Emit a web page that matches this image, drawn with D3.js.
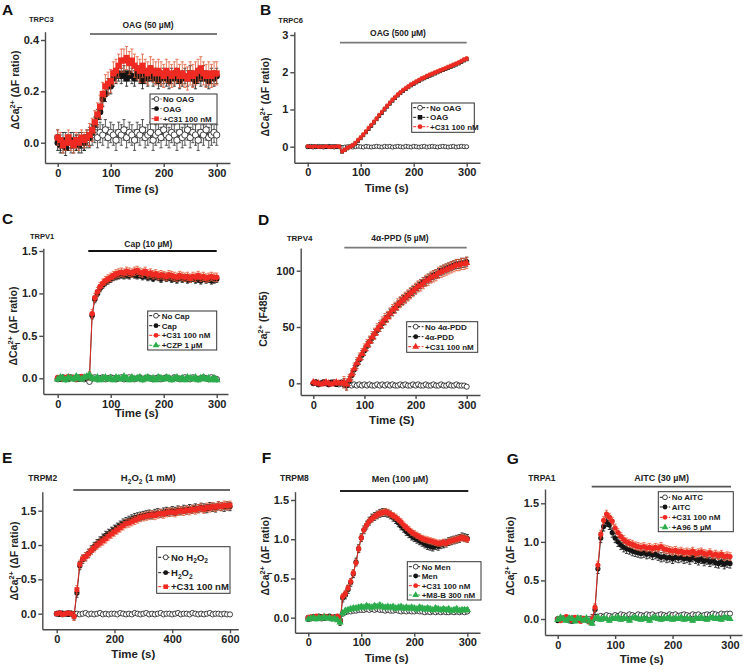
<!DOCTYPE html>
<html><head><meta charset="utf-8">
<script src="https://cdn.jsdelivr.net/npm/d3@7"></script>
<style>body{margin:0;background:#fff}svg{display:block}text{font-family:"Liberation Sans",Arial,sans-serif;font-weight:bold}</style>
</head><body><svg id="c" width="745" height="672"></svg>
<script>
// ---------- time bases ----------
const t300 = [0,5,10,15,20,25,30,35,40,45,50,55,60,65,70,75,80,85,90,95,100,105,110,115,120,125,130,135,140,145,150,155,160,165,170,175,180,185,190,195,200,205,210,215,220,225,230,235,240,245,250,255,260,265,270,275,280,285,290,295,300];
const t600 = [0,10,20,30,40,50,60,70,80,90,100,110,120,130,140,150,160,170,180,190,200,210,220,230,240,250,260,270,280,290,300,310,320,330,340,350,360,370,380,390,400,410,420,430,440,450,460,470,480,490,500,510,520,530,540,550,560,570,580,590,600];

// ---------- A: TRPC3 ----------
const aNo = [0.02,0.00,-0.01,0.01,0.00,-0.01,0.01,0.00,0.01,-0.01, 0.00,0.01,0.02,0.03,0.04,0.02,0.04,0.03,0.05,0.02, 0.04,0.03,0.01,0.04,0.03,0.05,0.02,0.04,0.03,0.01, 0.04,0.03,0.05,0.02,0.03,0.04,0.01,0.03,0.04,0.02, 0.05,0.03,0.02,0.04,0.03,0.01,0.04,0.02,0.03,0.05, 0.02,0.04,0.03,0.01,0.04,0.03,0.05,0.02,0.03,0.04, 0.03];
const aOag = [0.00,-0.01,0.01,-0.02,0.00,0.01,-0.01,0.00,-0.01,0.01, 0.00,0.02,0.02,0.04,0.07,0.10,0.12,0.17,0.19,0.22, 0.22,0.25,0.26,0.27,0.26,0.27,0.25,0.27,0.26,0.25, 0.27,0.26,0.24,0.26,0.25,0.27,0.25,0.26,0.24,0.25, 0.26,0.25,0.24,0.26,0.25,0.26,0.24,0.25,0.26,0.25, 0.27,0.25,0.24,0.26,0.25,0.27,0.25,0.24,0.26,0.25, 0.26];
const aC31 = [0.02,0.01,-0.01,0.00,0.02,0.00,-0.01,0.01,0.00,0.02, 0.01,0.02,0.03,0.05,0.08,0.11,0.14,0.19,0.22,0.23, 0.24,0.27,0.28,0.30,0.32,0.32,0.33,0.31,0.32,0.30, 0.29,0.28,0.30,0.28,0.27,0.29,0.28,0.27,0.28,0.27, 0.26,0.28,0.27,0.26,0.27,0.28,0.26,0.27,0.26,0.25, 0.27,0.26,0.27,0.28,0.29,0.27,0.26,0.27,0.26,0.27, 0.27];

// ---------- B: TRPC6 ----------
const bNo = [0.00,0.01,-0.01,0.00,0.01,0.00,-0.01,0.00,0.01,0.00, -0.01,0.00,0.00,-0.02,-0.01,0.00,0.01,-0.01,0.00,0.01, 0.00,-0.01,0.01,0.00,-0.01,0.00,0.01,0.00,-0.01,0.01, 0.00,0.01,-0.01,0.00,0.01,0.00,-0.01,0.01,0.00,-0.01, 0.01,0.00,-0.01,0.00,0.01,-0.01,0.00,0.01,0.00,-0.01, 0.00,0.01,0.00,-0.01,0.00,0.01,-0.01,0.00,0.01,0.00, 0.00];
const bOag = [0.00,-0.01,0.01,0.00,-0.01,0.00,0.01,-0.01,0.00,0.00, 0.01,0.00,-0.01,-0.13,-0.09,-0.04,-0.01,0.03,0.09,0.16, 0.23,0.31,0.39,0.48,0.56,0.65,0.74,0.83,0.91,1.00, 1.08,1.16,1.24,1.31,1.38,1.44,1.50,1.55,1.60,1.65, 1.69,1.73,1.77,1.81,1.84,1.88,1.91,1.94,1.97,2.00, 2.03,2.06,2.09,2.12,2.15,2.18,2.21,2.24,2.28,2.32, 2.35];
const bC31 = [0.01,0.00,0.00,0.01,-0.01,0.00,0.00,0.01,-0.01,0.00, 0.00,0.01,0.00,-0.12,-0.08,-0.03,0.00,0.04,0.10,0.18, 0.25,0.33,0.41,0.50,0.58,0.67,0.76,0.85,0.93,1.02, 1.10,1.18,1.26,1.33,1.40,1.46,1.52,1.57,1.62,1.67, 1.71,1.75,1.79,1.83,1.86,1.90,1.93,1.96,1.99,2.02, 2.05,2.08,2.11,2.14,2.17,2.20,2.23,2.26,2.30,2.34, 2.37];

// ---------- C: TRPV1 ----------
const cNo = [-0.01,0.00,0.01,-0.01,0.00,0.01,0.00,-0.01,0.01,0.00, -0.01,0.00,-0.04,0.00,0.01,-0.01,0.00,0.01,-0.01,0.00, 0.01,0.00,-0.01,0.00,0.01,-0.01,0.00,0.01,0.00,-0.01, 0.00,0.01,-0.01,0.00,0.01,0.00,-0.01,0.00,0.01,-0.01, 0.00,0.01,0.00,-0.01,0.01,0.00,-0.01,0.00,0.01,0.00, -0.01,0.01,0.00,-0.01,0.00,0.01,0.00,-0.01,0.01,0.00, -0.01];
const cCap = [0.00,-0.01,0.01,0.00,-0.01,0.00,0.01,0.00,-0.01,0.01, 0.00,0.01,0.02,0.74,0.93,1.00,1.06,1.10,1.13,1.15, 1.17,1.19,1.20,1.21,1.22,1.21,1.22,1.21,1.23,1.22, 1.21,1.22,1.20,1.21,1.19,1.20,1.18,1.20,1.19,1.17, 1.20,1.18,1.19,1.17,1.18,1.16,1.19,1.17,1.18,1.16, 1.17,1.18,1.16,1.17,1.15,1.18,1.16,1.17,1.15,1.16, 1.17];
const cC31 = [0.01,0.00,-0.01,0.01,0.02,0.00,0.01,-0.01,0.00,0.02, 0.01,0.02,0.03,0.76,0.95,1.02,1.08,1.12,1.15,1.17, 1.19,1.21,1.23,1.24,1.25,1.24,1.26,1.25,1.24,1.26, 1.27,1.25,1.24,1.26,1.23,1.24,1.22,1.23,1.21,1.22, 1.21,1.20,1.22,1.21,1.20,1.19,1.21,1.20,1.19,1.20, 1.18,1.20,1.19,1.21,1.19,1.20,1.18,1.19,1.20,1.19, 1.19];
const cCzp = [-0.01,0.01,0.00,-0.02,0.01,0.00,-0.01,0.02,0.00,-0.01, 0.01,0.02,0.04,0.00,-0.01,0.01,-0.02,0.00,0.01,-0.01, 0.00,-0.02,0.01,0.00,-0.01,0.02,0.00,-0.02,0.01,-0.01, 0.00,0.01,-0.02,0.00,0.01,-0.01,0.00,-0.02,0.01,0.00, -0.01,0.01,0.00,-0.02,0.00,0.01,-0.01,0.00,-0.02,0.01, 0.00,-0.01,0.01,-0.02,0.00,0.01,-0.01,0.00,-0.02,0.00, -0.02];

// ---------- D: TRPV4 ----------
const dNo = [0,1,-1,0,1,0,-1,0,1,0, -1,0,-1,-2,-1,-2,-1,-2,-1,-2, -1,-2,-1,-2,-2,-1,-2,-1,-2,-1, -2,-1,-2,-2,-1,-2,-1,-2,-2,-1, -2,-1,-2,-2,-1,-2,-2,-1,-2,-2, -1,-2,-2,-1,-2,-2,-1,-2,-2,-2, -3];
const dPdd = [0,1,-1,0,1,0,-1,1,0,-1, 0,1,0,-2,2,7,12,17,21,25, 29,33,37,40,44,47,50,53,56,59, 62,64,67,69,72,74,76,78,80,82, 84,86,88,90,91,93,94,96,97,98, 100,101,102,103,104,105,106,106,107,107, 108];
const dC31 = [1,0,0,-1,0,1,0,-1,0,1, 0,0,1,-1,3,8,13,18,22,26, 30,34,37,41,44,48,51,54,57,59, 62,65,67,70,72,74,76,78,80,82, 84,86,87,89,91,92,94,95,96,98, 99,100,101,102,103,104,105,105,106,106, 107];

// ---------- E: TRPM2 ----------
const eNo = [0.00,0.01,-0.01,0.00,0.01,0.00,-0.02,0.00,-0.01,0.00, 0.01,-0.01,0.00,-0.01,0.00,0.01,-0.01,0.00,-0.01,0.00, 0.00,-0.01,0.01,0.00,-0.01,0.00,-0.01,0.01,0.00,-0.01, 0.00,0.01,-0.01,0.00,-0.01,0.00,0.01,-0.01,0.00,0.00, -0.01,0.00,0.01,-0.01,0.00,0.00,-0.01,0.01,0.00,-0.01, 0.00,-0.01,0.00,0.01,-0.01,0.00,0.00,-0.01,0.00,-0.01, -0.01];
const eH2 = [0.00,-0.01,0.01,0.00,-0.01,0.01,-0.03,0.30,0.70,0.79, 0.83,0.88,0.93,0.98,1.02,1.06,1.10,1.14,1.17,1.20, 1.23,1.26,1.29,1.32,1.34,1.36,1.38,1.40,1.41,1.42, 1.43,1.44,1.45,1.44,1.46,1.47,1.46,1.48,1.49,1.48, 1.50,1.49,1.51,1.50,1.52,1.51,1.53,1.52,1.54,1.53, 1.55,1.54,1.53,1.56,1.55,1.54,1.57,1.56,1.55,1.57, 1.56];
const eC31 = [0.00,0.01,-0.01,0.00,0.01,0.00,-0.04,0.35,0.72,0.80, 0.83,0.87,0.92,0.96,1.00,1.03,1.06,1.09,1.13,1.16, 1.19,1.22,1.25,1.28,1.31,1.32,1.34,1.36,1.38,1.40, 1.41,1.42,1.43,1.44,1.43,1.45,1.46,1.45,1.47,1.48, 1.48,1.47,1.49,1.50,1.49,1.51,1.50,1.52,1.51,1.53, 1.54,1.52,1.55,1.54,1.56,1.55,1.57,1.56,1.58,1.57, 1.58];

// ---------- F: TRPM8 ----------
const fNo = [0.00,-0.01,0.01,0.00,0.01,-0.01,0.00,0.01,0.00,-0.01, 0.00,0.01,-0.03,0.05,0.07,0.08,0.08,0.09,0.09,0.10, 0.10,0.10,0.11,0.10,0.11,0.10,0.11,0.10,0.10,0.09, 0.10,0.09,0.09,0.10,0.09,0.08,0.09,0.08,0.09,0.08, 0.08,0.09,0.08,0.08,0.07,0.08,0.07,0.08,0.07,0.08, 0.07,0.08,0.07,0.07,0.08,0.07,0.08,0.07,0.08,0.07, 0.08];
const fMen = [-0.02,0.00,0.01,0.00,0.02,0.01,-0.01,0.01,0.02,0.00, 0.01,0.00,-0.05,0.25,0.29,0.36,0.45,0.56,0.71,0.88, 1.02,1.12,1.18,1.23,1.27,1.29,1.31,1.33,1.34,1.34, 1.33,1.31,1.28,1.25,1.21,1.17,1.14,1.10,1.07,1.04, 1.02,1.00,0.98,0.96,0.94,0.92,0.91,0.90,0.92,0.91, 0.93,0.94,0.95,0.97,0.98,0.99,1.00,1.01,1.03,1.02, 1.01];
const fC31 = [0.00,0.01,-0.01,0.02,0.01,0.00,0.02,0.01,0.00,0.01, 0.00,0.02,-0.04,0.27,0.31,0.38,0.46,0.57,0.70,0.88, 1.02,1.12,1.18,1.23,1.26,1.29,1.31,1.33,1.34,1.35, 1.34,1.32,1.30,1.28,1.25,1.22,1.18,1.15,1.12,1.09, 1.07,1.05,1.03,1.01,1.00,0.99,0.98,0.97,0.96,0.95, 0.95,0.96,0.95,0.97,0.98,0.99,1.00,1.01,1.02,1.01, 1.00];
const fM8b = [-0.02,-0.01,0.00,-0.02,0.00,-0.01,0.01,-0.01,0.00,-0.02, -0.01,-0.03,-0.06,0.06,0.09,0.10,0.11,0.12,0.12,0.13, 0.14,0.13,0.15,0.14,0.13,0.15,0.14,0.16,0.14,0.13, 0.14,0.13,0.14,0.12,0.13,0.14,0.12,0.13,0.12,0.13, 0.12,0.11,0.13,0.12,0.11,0.12,0.11,0.10,0.12,0.11, 0.10,0.11,0.10,0.11,0.09,0.10,0.11,0.09,0.10,0.10, 0.10];

// ---------- G: TRPA1 ----------
const gNo = [0.00,-0.01,0.01,0.00,-0.02,0.01,0.00,-0.01,0.01,0.00, -0.01,0.00,-0.02,0.02,0.03,0.04,0.03,0.05,0.04,0.03, 0.05,0.04,0.06,0.05,0.04,0.06,0.05,0.04,0.06,0.05, 0.04,0.06,0.05,0.06,0.04,0.05,0.06,0.05,0.04,0.06, 0.05,0.06,0.04,0.05,0.06,0.05,0.04,0.06,0.05,0.06, 0.04,0.05,0.06,0.05,0.07,0.06,0.05,0.07,0.06,0.07, 0.07];
const gAitc = [-0.02,0.00,0.01,0.02,-0.01,-0.03,0.01,0.00,-0.02,0.00, -0.01,-0.03,0.00,0.12,0.65,1.05,1.20,1.26,1.22,1.12, 1.05,1.00,0.96,0.93,0.91,0.90,0.88,0.87,0.86,0.85, 0.86,0.84,0.85,0.83,0.84,0.82,0.80,0.81,0.79,0.80, 0.78,0.80,0.79,0.80,0.78,0.79,0.77,0.80,0.78,0.76, 0.78,0.75,0.77,0.74,0.76,0.73,0.72,0.74,0.71,0.73, 0.72];
const gC31 = [0.00,-0.02,0.01,0.03,0.00,-0.02,0.02,0.00,-0.03,0.01, -0.01,-0.04,0.00,0.15,0.70,1.10,1.28,1.36,1.32,1.27, 1.18,1.12,1.07,1.03,1.00,0.98,0.97,0.95,0.94,0.93, 0.94,0.92,0.93,0.91,0.93,0.92,0.94,0.91,0.90,0.89, 0.88,0.89,0.87,0.88,0.86,0.87,0.86,0.88,0.85,0.86, 0.87,0.85,0.84,0.86,0.83,0.84,0.82,0.84,0.81,0.82, 0.81];
const gA96 = [-0.01,0.02,0.00,-0.02,0.01,0.00,-0.03,0.01,0.00,-0.02, 0.01,-0.03,-0.06,0.00,0.02,-0.01,0.01,0.00,-0.02,0.01, 0.00,0.02,-0.01,0.01,0.00,-0.02,0.01,0.02,0.00,-0.01, 0.01,0.00,-0.02,0.01,0.02,0.00,-0.01,0.01,0.00,0.02, -0.01,0.01,0.00,0.02,-0.01,0.01,0.00,-0.02,0.01,0.00, 0.02,0.00,-0.01,0.01,0.02,0.00,0.01,-0.01,0.02,0.01, 0.00];

// ---------- tick labels ----------
const xTicks300 = [0,100,200,300];
const xTicks600 = [0,200,400,600];
const yTicksA = [0.0,0.2,0.4];
const yTicksB = [0,1,2,3];
const yTicks15 = [0.0,0.5,1.0,1.5];
const yTicksD = [0,50,100];

// ---------- styling ----------
const RED='#ee2a22', REDE='#e35a36', BLK='#141414', GRN='#2bad4b', GRNE='#35a852';
const FONT='"Liberation Sans",Arial,sans-serif';
const YT_DF=[['ΔCa'],['i','sub'],['2+','supst'],[' (ΔF ratio)']];

const panels = [
 {letter:'A',lx:2,ly:15, name:'TRPC3',nx:29,ny:22,nfs:7.5,
  stim:[['OAG (50 µM)']],sx:148,sy:27.5,sfs:8.5,bar:[90,217,34],barc:'#7a7a7a',
  xa:[0,300],xp:[57.7,216.7],ya:[0,0.4],yp:[142.7,40],L:45,R:230,T:31.7,B:163,
  xt:xTicks300,yt:yTicksA,yf:'.1f',xtitle:'Time (s)',xtx:136.7,xty:193,
  ytitle:YT_DF,ytx:19,yty:90,on:60,ms:3.2,
  lg:{x0:150,y0:94,x1:217,y1:124,ys:[99,108.7,118.7],mx:156.5,tx:163,fs:8},
  series:[
   {label:[['No OAG']],t:t300,v:aNo,m:'oc',c:BLK,ec:'#333',err:[0.03,0.04]},
   {label:[['OAG']],t:t300,v:aOag,m:'fc',c:BLK,ec:BLK,err:[0.03,0.03]},
   {label:[['+C31 100 nM']],t:t300,v:aC31,m:'sq',c:RED,ec:REDE,err:[0.03,0.045]}]},
 {letter:'B',lx:260,ly:15, name:'TRPC6',nx:278.3,ny:23.3,nfs:7.5,
  stim:[['OAG (500 µM)']],sx:398,sy:36,sfs:8.5,bar:[340,466.7,42.7],barc:'#7a7a7a',
  xa:[0,300],xp:[307.7,466.7],ya:[0,3],yp:[146.7,35],L:294.3,R:480,T:31.7,B:162.7,
  xt:xTicks300,yt:yTicksB,yf:'d',xtitle:'Time (s)',xtx:386.7,xty:191.7,
  ytitle:YT_DF,ytx:269,yty:97,on:60,ms:2,
  lg:{x0:411.7,y0:103,x1:474.3,y1:132.3,ys:[107.7,117.3,126.7],mx:420,tx:430,fs:8},
  series:[
   {label:[['No OAG']],t:t300,v:bNo,m:'oc',c:BLK,ec:'#333',err:[0.01,0.01]},
   {label:[['OAG']],t:t300,v:bOag,m:'sq',c:BLK,ec:BLK,err:[0.02,0.04]},
   {label:[['+C31 100 nM']],t:t300,v:bC31,m:'fc',c:RED,ec:REDE,err:[0.02,0.05]}]},
 {letter:'C',lx:2,ly:224, name:'TRPV1',nx:30,ny:239.3,nfs:7.5,
  stim:[['Cap (10 µM)']],sx:148.3,sy:246.5,sfs:8.5,bar:[88.3,216.7,251],barc:'#111',
  xa:[0,300],xp:[57.7,216.7],ya:[0,1.5],yp:[378.3,251],L:43.3,R:228,T:248.3,B:394,
  xt:xTicks300,yt:yTicks15,yf:'.1f',xtitle:'Time (s)',xtx:136.7,xty:417,
  ytitle:YT_DF,ytx:17,yty:326,on:60,ms:2.8,
  lg:{x0:147.7,y0:311,x1:216.7,y1:350,ys:[315.7,325.7,335.3,345.3],mx:156,tx:161.7,fs:8},
  series:[
   {label:[['No Cap']],t:t300,v:cNo,m:'oc',c:BLK,ec:'#333',err:[0.01,0.01]},
   {label:[['Cap']],t:t300,v:cCap,m:'fc',c:BLK,ec:BLK,err:[0.02,0.04]},
   {label:[['+C31 100 nM']],t:t300,v:cC31,m:'fc',c:RED,ec:REDE,err:[0.02,0.05]},
   {label:[['+CZP 1 µM']],t:t300,v:cCzp,m:'tri',c:GRN,ec:GRNE,err:[0.02,0.02]}]},
 {letter:'D',lx:258,ly:225, name:'TRPV4',nx:286.7,ny:240.7,nfs:8,
  stim:[['4α-PPD (5 µM)']],sx:400,sy:240.7,sfs:8.5,bar:[344.3,466.7,247.7],barc:'#7a7a7a',
  xa:[0,300],xp:[313.3,466.7],ya:[0,100],yp:[383.3,270.7],L:300.7,R:480,T:248,B:395,
  xt:xTicks300,yt:yTicksD,yf:'d',xtitle:'Time (S)',xtx:391.7,xty:424,
  ytitle:[['Ca'],['i','sub'],['2+','supst'],[' (F485)']],ytx:267,yty:319,on:60,ms:2.6,
  lg:{x0:406.7,y0:321.7,x1:477.7,y1:352.3,ys:[326.7,336.7,346.7],mx:415.7,tx:425,fs:8},
  series:[
   {label:[['No 4α-PDD']],t:t300,v:dNo,m:'oc',c:BLK,ec:'#333',err:[1,1.5]},
   {label:[['4α-PDD']],t:t300,v:dPdd,m:'fc',c:BLK,ec:BLK,err:[1,4]},
   {label:[['+C31 100 nM']],t:t300,v:dC31,m:'tri',c:RED,ec:REDE,err:[1,5]}]},
 {letter:'E',lx:2,ly:463, name:'TRPM2',nx:28.3,ny:480.7,nfs:8.5,
  stim:[['H'],['2','sub'],['O'],['2','sub'],[' (1 mM)']],sx:148.3,sy:481,sfs:9.5,bar:[73.3,230,490],barc:'#6a6a6a',
  xa:[0,600],xp:[56.7,230],ya:[0,1.5],yp:[613.7,510.7],L:42.3,R:238.3,T:491.7,B:629.3,
  xt:xTicks600,yt:yTicks15,yf:'.1f',xtitle:'Time (s)',xtx:133.3,xty:658.3,
  ytitle:YT_DF,ytx:18,yty:561,on:60,ms:2.6,
  lg:{x0:156.7,y0:546.7,x1:230,y1:593.3,ys:[557.3,572.7,586.7],mx:165.7,tx:171,fs:9.5},
  series:[
   {label:[['No H'],['2','sub'],['O'],['2','sub']],t:t600,v:eNo,m:'oc',c:BLK,ec:'#333',err:[0.01,0.015]},
   {label:[['H'],['2','sub'],['O'],['2','sub']],t:t600,v:eH2,m:'fc',c:BLK,ec:BLK,err:[0.02,0.06]},
   {label:[['+C31 100 nM']],t:t600,v:eC31,m:'sq',c:RED,ec:REDE,err:[0.02,0.06]}]},
 {letter:'F',lx:261.7,ly:463, name:'TRPM8',nx:280,ny:480.7,nfs:8.5,
  stim:[['Men (100 µM)']],sx:400,sy:482,sfs:9,bar:[340,468.3,491],barc:'#222',
  xa:[0,300],xp:[308.3,467.3],ya:[0,1.5],yp:[617.7,500],L:295,R:480,T:491.7,B:632.7,
  xt:xTicks300,yt:yTicks15,yf:'.1f',xtitle:'Time (s)',xtx:386.7,xty:661.7,
  ytitle:YT_DF,ytx:269,yty:556,on:60,ms:2.6,
  lg:{x0:407.3,y0:561.7,x1:481,y1:600,ys:[566.7,576,585.7,595],mx:415.7,tx:421.7,fs:8},
  series:[
   {label:[['No Men']],t:t300,v:fNo,m:'oc',c:BLK,ec:'#333',err:[0.01,0.01]},
   {label:[['Men']],t:t300,v:fMen,m:'fc',c:BLK,ec:BLK,err:[0.02,0.05]},
   {label:[['+C31 100 nM']],t:t300,v:fC31,m:'fc',c:RED,ec:REDE,err:[0.02,0.04]},
   {label:[['+M8-B 300 nM']],t:t300,v:fM8b,m:'tri',c:GRN,ec:GRNE,err:[0.02,0.03]}]},
 {letter:'G',lx:506.7,ly:464, name:'TRPA1',nx:528.3,ny:480.7,nfs:8.5,
  stim:[['AITC (30 µM)']],sx:661.7,sy:480.5,sfs:9,bar:[591.7,731,486.7],barc:'#555',
  xa:[0,300],xp:[557.7,730],ya:[0,1.5],yp:[619,503.3],L:545,R:742,T:489,B:635,
  xt:xTicks300,yt:yTicks15,yf:'.1f',xtitle:'Time (s)',xtx:641.7,xty:662.7,
  ytitle:YT_DF,ytx:514,yty:556,on:60,ms:2.6,
  lg:{x0:658.3,y0:491.7,x1:733.3,y1:531.7,ys:[497.3,507,517.3,527.3],mx:665,tx:671.7,fs:8},
  series:[
   {label:[['No AITC']],t:t300,v:gNo,m:'oc',c:BLK,ec:'#333',err:[0.01,0.015]},
   {label:[['AITC']],t:t300,v:gAitc,m:'fc',c:BLK,ec:BLK,err:[0.02,0.06]},
   {label:[['+C31 100 nM']],t:t300,v:gC31,m:'fc',c:RED,ec:REDE,err:[0.02,0.05]},
   {label:[['+A96 5 µM']],t:t300,v:gA96,m:'tri',c:GRN,ec:GRNE,err:[0.02,0.02]}]}
];

const svg = d3.select('#c');

function rich(sel, parts, fs){
  let shift = 0;
  parts.forEach(([s,k])=>{
    const t = sel.append('tspan').text(s);
    let target = 0, size = fs;
    if(k==='sub'){target = fs*0.3; size = fs*0.7;}
    if(k==='sup'){target = -fs*0.45; size = fs*0.7;}
    if(k==='supst'){target = -fs*0.42; size = fs*0.7; t.attr('dx', -fs*0.2);}
    t.attr('dy', target - shift).attr('font-size', size);
    shift = target;
  });
}

function marker(sel, m, r, c){
  let type = d3.symbolCircle, size = Math.PI*r*r;
  if(m==='sq'){type = d3.symbolSquare; size = (2*r*0.95)*(2*r*0.95);}
  if(m==='tri'){type = d3.symbolTriangle; size = 2.6*r*r*1.3;}
  sel.attr('d', d3.symbol().type(type).size(size)())
     .attr('fill', m==='oc' ? '#fff' : c)
     .attr('stroke', m==='oc' ? c : 'none')
     .attr('stroke-width', 0.8);
}

panels.forEach(p=>{
  const g = svg.append('g');
  const x = d3.scaleLinear().domain(p.xa).range(p.xp);
  x.domain([x.invert(p.L), x.invert(p.R)]).range([p.L, p.R]);
  const y = d3.scaleLinear().domain(p.ya).range(p.yp);
  y.domain([y.invert(p.B), y.invert(p.T)]).range([p.B, p.T]);

  // axes
  const ax = g.append('g').attr('transform', `translate(0,${p.B})`)
    .call(d3.axisBottom(x).tickValues(p.xt).tickFormat(d3.format('d')).tickSize(4).tickSizeOuter(0).tickPadding(2));
  const ay = g.append('g').attr('transform', `translate(${p.L},0)`)
    .call(d3.axisLeft(y).tickValues(p.yt).tickFormat(d3.format(p.yf)).tickSize(4).tickSizeOuter(0).tickPadding(2));
  [ax, ay].forEach(a=>{
    a.selectAll('path,line').attr('stroke', '#4a4a4a').attr('stroke-width', 1.4);
    a.selectAll('text').attr('font-size', 11).attr('font-family', FONT).attr('font-weight', 'bold').attr('fill', '#222');
  });

  // series
  p.series.forEach(s=>{
    const pts = s.v.map((v,i)=>({t:s.t[i], v, e: s.t[i] < p.on ? s.err[0] : s.err[1]})).filter(d=>d.t !== undefined);
    const sg = g.append('g');
    sg.selectAll('path.eb').data(pts).join('path').attr('class','eb')
      .attr('d', d=>{const X=x(d.t), y1=y(d.v-d.e), y2=y(d.v+d.e); return `M${X},${y1}V${y2}M${X-1.6},${y1}h3.2M${X-1.6},${y2}h3.2`;})
      .attr('stroke', s.ec).attr('stroke-width', 0.8).attr('fill','none');
    sg.append('path').datum(pts)
      .attr('d', d3.line().x(d=>x(d.t)).y(d=>y(d.v)))
      .attr('fill','none').attr('stroke', s.c).attr('stroke-width', 0.9);
    sg.selectAll('path.mk').data(pts).join('path').attr('class','mk')
      .attr('transform', d=>`translate(${x(d.t)},${y(d.v)})`)
      .call(sel=>marker(sel, s.m, p.ms, s.c));
  });

  // stimulus bar + label
  g.append('line').attr('x1', p.bar[0]).attr('x2', p.bar[1]).attr('y1', p.bar[2]).attr('y2', p.bar[2])
    .attr('stroke', p.barc).attr('stroke-width', 1.8);
  rich(g.append('text').attr('x', p.sx).attr('y', p.sy).attr('text-anchor','middle').attr('font-size', p.sfs).attr('fill','#222'), p.stim, p.sfs);

  // panel letter and channel name
  g.append('text').attr('x', p.lx).attr('y', p.ly).attr('font-size', 15.5).attr('fill','#111').text(p.letter);
  g.append('text').attr('x', p.nx).attr('y', p.ny).attr('font-size', p.nfs).attr('fill','#222').text(p.name);

  // axis titles
  g.append('text').attr('x', p.xtx).attr('y', p.xty).attr('text-anchor','middle').attr('font-size', 11.5).attr('fill','#222').text(p.xtitle);
  rich(g.append('text').attr('transform', `translate(${p.ytx},${p.yty}) rotate(-90)`).attr('text-anchor','middle').attr('font-size', 10.5).attr('fill','#222'), p.ytitle, 10.5);

  // legend
  const lg = p.lg;
  g.append('rect').attr('x', lg.x0).attr('y', lg.y0).attr('width', lg.x1-lg.x0).attr('height', lg.y1-lg.y0)
    .attr('fill','#fff').attr('stroke','#333').attr('stroke-width', 1);
  p.series.forEach((s,i)=>{
    const yy = lg.ys[i];
    g.append('line').attr('x1', lg.x0+1.5).attr('x2', lg.tx-1.5).attr('y1', yy).attr('y2', yy)
      .attr('stroke', s.c).attr('stroke-width', 1).attr('stroke-dasharray', '3,1.5');
    g.append('path').attr('transform', `translate(${lg.mx},${yy})`).call(sel=>marker(sel, s.m, 2.4, s.c));
    rich(g.append('text').attr('x', lg.tx).attr('y', yy+lg.fs*0.35).attr('font-size', lg.fs).attr('fill','#222'), s.label, lg.fs);
  });
});
</script></body></html>
